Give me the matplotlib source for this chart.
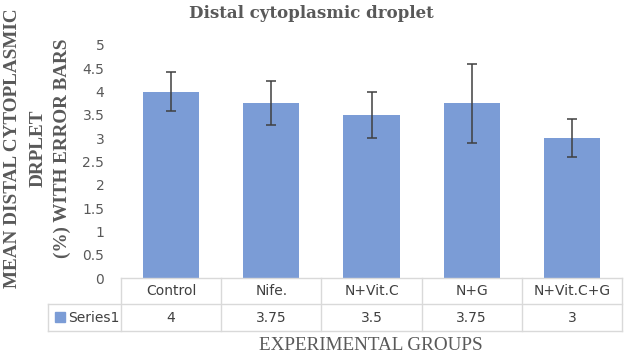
import matplotlib.pyplot as plt
import matplotlib.transforms as mtransforms
from matplotlib.patches import Rectangle

# data
groups = ["Control", "Nife.", "N+Vit.C", "N+G", "N+Vit.C+G"]
means = [4, 3.75, 3.5, 3.75, 3]
errors = [0.41, 0.47, 0.5, 0.85, 0.41]
series_name = "Series1"
yticks = [0, 0.5, 1, 1.5, 2, 2.5, 3, 3.5, 4, 4.5, 5]

bar_color = "#7b9cd6"
text_gray = "#595959"
grid_gray = "#d9d9d9"

W, H = 627, 358
fig = plt.figure(figsize=(W / 100, H / 100), dpi=100)

# axes box in pixels (left, right, bottom=y0, top=y5)
px_left, px_right, px_zero, px_five = 121, 622, 278, 45
ax = fig.add_axes([px_left / W, 1 - px_zero / H,
                   (px_right - px_left) / W, (px_zero - px_five) / H])

x = list(range(len(groups)))
ax.bar(x, means, width=0.56, color=bar_color, zorder=2)
ax.errorbar(x, means, yerr=errors, fmt="none", ecolor="#404040",
            elinewidth=1.1, capsize=3.5, capthick=1.1, zorder=3)

ax.set_xlim(-0.5, len(groups) - 0.5)
ax.set_ylim(0, 5)
ax.set_yticks(yticks)
ax.set_yticklabels([f"{t:g}" for t in yticks], family="DejaVu Sans",
                   fontsize=10, color=text_gray)
ax.set_xticks([])
ax.tick_params(axis="y", length=0, pad=12)
for s in ax.spines.values():
    s.set_visible(False)

# =========================
# data table under the bars
# =========================
tr = mtransforms.blended_transform_factory(ax.transData, fig.transFigure)
trf = fig.transFigure

y_top = 1 - 278 / H
y_mid = 1 - 304 / H
y_bot = 1 - 331 / H
leg_left = 48 / W
right = px_right / W
lw = 1.0

# horizontal lines
fig.add_artist(plt.Line2D([px_left / W, right], [y_top, y_top], color=grid_gray, lw=lw, transform=trf))
fig.add_artist(plt.Line2D([leg_left, right], [y_mid, y_mid], color=grid_gray, lw=lw, transform=trf))
fig.add_artist(plt.Line2D([leg_left, right], [y_bot, y_bot], color=grid_gray, lw=lw, transform=trf))
# vertical lines
fig.add_artist(plt.Line2D([leg_left, leg_left], [y_mid, y_bot], color=grid_gray, lw=lw, transform=trf))
for i in range(len(groups) + 1):
    xb = i - 0.5
    ax.add_line(plt.Line2D([xb, xb], [y_top, y_bot], color=grid_gray, lw=lw,
                           transform=tr, clip_on=False))

for i, (g, m) in enumerate(zip(groups, means)):
    ax.text(i, (y_top + y_mid) / 2, g, transform=tr, ha="center", va="center",
            fontsize=10, color="#404040", family="DejaVu Sans")
    ax.text(i, (y_mid + y_bot) / 2, f"{m:g}", transform=tr, ha="center", va="center",
            fontsize=10, color="#404040", family="DejaVu Sans")

# legend key in the table
fig.add_artist(Rectangle((55 / W, 1 - 322 / H), 10 / W, 10 / H,
                         color=bar_color, transform=trf))
fig.text(68 / W, (y_mid + y_bot) / 2, series_name, ha="left", va="center",
         fontsize=10, color="#404040", family="DejaVu Sans")

# =========================
# titles / labels
# =========================
fig.text(311 / W, 1 - 13 / H, "Distal cytoplasmic droplet", ha="center", va="center",
         fontsize=12, fontweight="bold", color=text_gray, family="DejaVu Serif")

ylab_lines = ["MEAN DISTAL CYTOPLASMIC", "DRPLET", "(%) WITH ERROR BARS"]
ylab_x = [13, 38, 62]
for t, xx in zip(ylab_lines, ylab_x):
    fig.text(xx / W, 1 - 148 / H, t, rotation=90, ha="center", va="center",
             fontsize=13.8, fontweight="bold", color=text_gray, family="Liberation Serif")

fig.text(371 / W, 1 - 345 / H, "EXPERIMENTAL GROUPS", ha="center", va="center",
         fontsize=13.8, color=text_gray, family="Liberation Serif")

fig.savefig("out.png", dpi=100)
